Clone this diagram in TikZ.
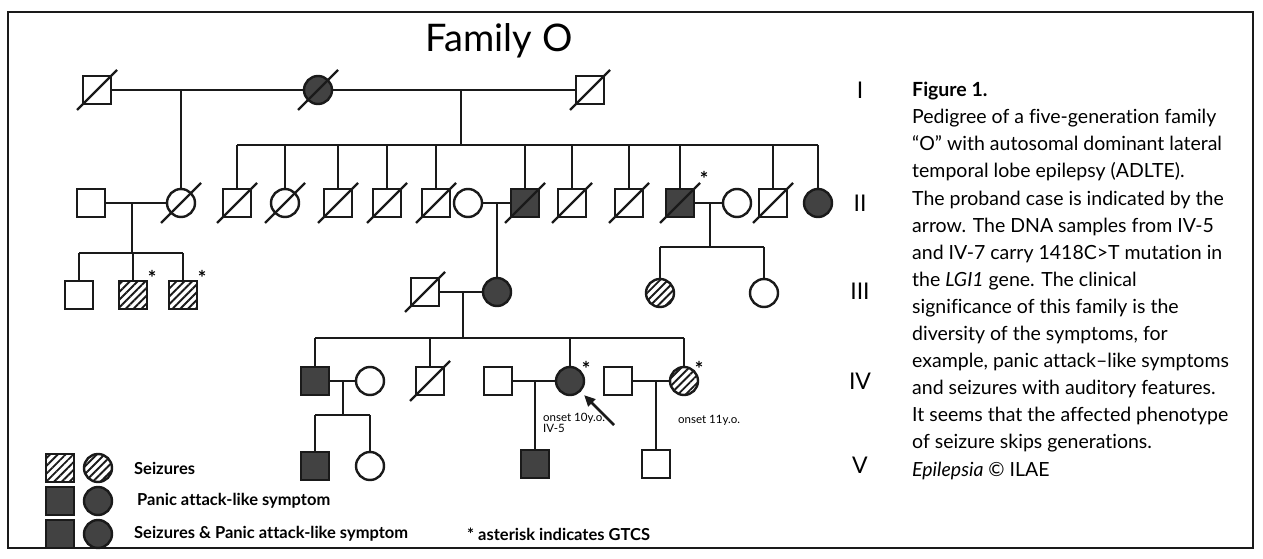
\documentclass[tikz,border=0pt]{standalone}
\usepackage{fontspec}
\setmainfont[Ligatures={NoCommon}]{Lato}
\usetikzlibrary{positioning,arrows.meta,calc,patterns.meta}
\definecolor{pedink}{HTML}{1A1A1A}
\definecolor{pedfill}{HTML}{424242}

\begin{document}
\begin{tikzpicture}[
  x=1pt, y=-1pt,
  indiv/.style={draw=pedink, line width=2.4pt, fill=white, minimum size=28pt, inner sep=0pt, outer sep=0pt},
  male/.style={indiv, rectangle},
  female/.style={indiv, circle},
  maleaff/.style={male, fill=pedfill},
  femaleaff/.style={female, fill=pedfill},
  maleseiz/.style={male, pattern={Lines[angle=45, distance=5.5pt, line width=1.9pt]}, pattern color=pedink},
  femaleseiz/.style={female, pattern={Lines[angle=45, distance=5.5pt, line width=1.9pt]}, pattern color=pedink},
  rel/.style={draw=pedink, line width=2.2pt},
  deadline/.style={draw=pedink, line width=2.2pt},
  gen/.style={font=\fontsize{23}{23}\selectfont, inner sep=0pt},
  star/.style={font=\bfseries\fontsize{20}{20}\selectfont, inner sep=0pt},
  onset/.style={font=\fontsize{11.5}{10}\selectfont, align=left, inner sep=0pt},
  key/.style={font=\bfseries\fontsize{16.5}{16.5}\selectfont, inner sep=0pt},
  caption/.style={font=\fontsize{19.5}{27.1}\selectfont, align=left, inner sep=0pt},
  proband/.style={draw=pedink, line width=2.6pt, -{Triangle[length=11pt, width=10pt]}},
]
\useasboundingbox (0,0) rectangle (1263,559);
\draw[line width=1.4pt, draw=pedink] (8,12) rectangle (1253,548);

\node[font=\fontsize{38}{40}\selectfont, anchor=base, inner sep=0pt] (title) at (499,52) {Family O};

% ---------------- generation I
\node[male] (I1) at (97,90) {};
\node[femaleaff] (I2) at (318,90) {};
\node[male] (I3) at (590,90) {};

% ---------------- generation II
\foreach \n/\x/\s in {II1/91/male, II2/181/female, II3/237/male, II4/285/female,
    II5/338/male, II6/387/male, II7/436/male, II8/468/female, II9/525/maleaff,
    II10/572/male, II11/629/male, II12/680/maleaff, II13/737/female,
    II14/773/male, II15/818/femaleaff}
  \node[\s] (\n) at (\x,203) {};

% ---------------- generation III
\foreach \n/\x/\y/\s in {III1/79/295/male, III2/133/295/maleseiz, III3/183/295/maleseiz,
    III4/425/292/male, III5/497/292/femaleaff, III6/660/293/femaleseiz, III7/764/293/female}
  \node[\s] (\n) at (\x,\y) {};

% ---------------- generation IV
\foreach \n/\x/\s in {IV1/315/maleaff, IV2/370/female, IV3/430/male, IV4/498/male,
    IV5/570/femaleaff, IV6/618/male, IV7/684/femaleseiz}
  \node[\s] (\n) at (\x,381) {};

% ---------------- generation V
\foreach \n/\x/\y/\s in {V1/315/466/maleaff, V2/370/466/female, V3/535/464/maleaff, V4/656/464/male}
  \node[\s] (\n) at (\x,\y) {};

% ---------------- matings and sibships
\draw[rel] (I1) -- (I2);
\draw[rel] (I2) -- (I3);
\coordinate (mI12) at (181,90);
\draw[rel] (mI12) -- (II2);
\coordinate (mI23) at (461,90);
\coordinate (sibII) at (461,145);
\draw[rel] (mI23) -- (sibII);
\draw[rel] (II3|-sibII) -- (II15|-sibII);
\foreach \n in {II3,II4,II5,II6,II7,II9,II10,II11,II12,II14,II15} \draw[rel] (\n|-sibII) -- (\n);

\draw[rel] (II1) -- (II2);
\coordinate (mII12) at (132,203);
\coordinate (sibIIIa) at (132,253);
\draw[rel] (mII12) -- (sibIIIa);
\draw[rel] (III1|-sibIIIa) -- (III3|-sibIIIa);
\foreach \n in {III1,III2,III3} \draw[rel] (\n|-sibIIIa) -- (\n);

\draw[rel] (II8) -- (II9);
\coordinate (mII89) at (497,203);
\draw[rel] (mII89) -- (III5);

\draw[rel] (II12) -- (II13);
\coordinate (mII1213) at (710,203);
\coordinate (sibIIIb) at (710,247);
\draw[rel] (mII1213) -- (sibIIIb);
\draw[rel] (III6|-sibIIIb) -- (III7|-sibIIIb);
\foreach \n in {III6,III7} \draw[rel] (\n|-sibIIIb) -- (\n);

\draw[rel] (III4) -- (III5);
\coordinate (mIII45) at (463,292);
\coordinate (sibIV) at (463,338);
\draw[rel] (mIII45) -- (sibIV);
\draw[rel] (IV1|-sibIV) -- (IV7|-sibIV);
\foreach \n in {IV1,IV3,IV5,IV7} \draw[rel] (\n|-sibIV) -- (\n);

\draw[rel] (IV1) -- (IV2);
\coordinate (mIV12) at (343,382);
\coordinate (sibV) at (343,415);
\draw[rel] (mIV12) -- (sibV);
\draw[rel] (V1|-sibV) -- (V2|-sibV);
\foreach \n in {V1,V2} \draw[rel] (\n|-sibV) -- (\n);

\draw[rel] (IV4) -- (IV5);
\coordinate (mIV45) at (535,381);
\draw[rel] (mIV45) -- (V3);
\draw[rel] (IV6) -- (IV7);
\coordinate (mIV67) at (656,381);
\draw[rel] (mIV67) -- (V4);

% ---------------- deceased
\foreach \n in {I1,I2,I3,II2,II3,II4,II5,II6,II7,II9,II10,II11,II12,II14,III4,IV3}
  \draw[deadline] ($(\n)+(-20,20)$) -- ($(\n)+(20,-20)$);

% ---------------- GTCS marks, proband, onset
\foreach \x/\y in {152/278, 202/278, 704/179, 586/369, 699/369}
  \node[star] at (\x,\y) {*};
\coordinate (probtail) at (614,425);
\draw[proband, shorten >=6pt] (probtail) -- (IV5);
\node[onset, anchor=north west] (lab5) at (543,413) {onset 10y.o.\\IV-5};
\node[onset, anchor=west] (lab7) at (678,420) {onset 11y.o.};

% ---------------- generation numerals
\foreach \g/\y in {I/90, II/203, III/291, IV/381, V/465}
  \node[gen] (gen\g) at (860,\y) {\g};

% ---------------- legend
\node[maleseiz] (k1s) at (60,468) {};
\node[femaleseiz, right=10pt of k1s] (k1c) {};
\node[key, right=22pt of k1c] (k1t) {Seizures};
\node[maleaff] (k2s) at (60,501) {};
\node[femaleaff, right=10pt of k2s] (k2c) {};
\node[key, right=25pt of k2c] (k2t) {Panic attack-like symptom};
\node[maleaff] (k3s) at (60,534) {};
\node[femaleaff, right=10pt of k3s] (k3c) {};
\node[key, right=22pt of k3c] (k3t) {Seizures \& Panic attack-like symptom};
\node[key, anchor=west] (k4t) at (467,534) {* asterisk indicates GTCS};

% ---------------- caption
\node[caption, anchor=base west] (capt) at (912,476) {\textbf{Figure 1.}\\
Pedigree of a five-generation family\\
“O” with autosomal dominant lateral\\
temporal lobe epilepsy (ADLTE).\\
The proband case is indicated by the\\
arrow. The DNA samples from IV-5\\
and IV-7 carry 1418C>T mutation in\\
the \textit{LGI1} gene. The clinical\\
significance of this family is the\\
diversity of the symptoms, for\\
example, panic attack–like symptoms\\
and seizures with auditory features.\\
It seems that the affected phenotype\\
of seizure skips generations.\\
\textit{Epilepsia} © ILAE};

\end{tikzpicture}
\end{document}
